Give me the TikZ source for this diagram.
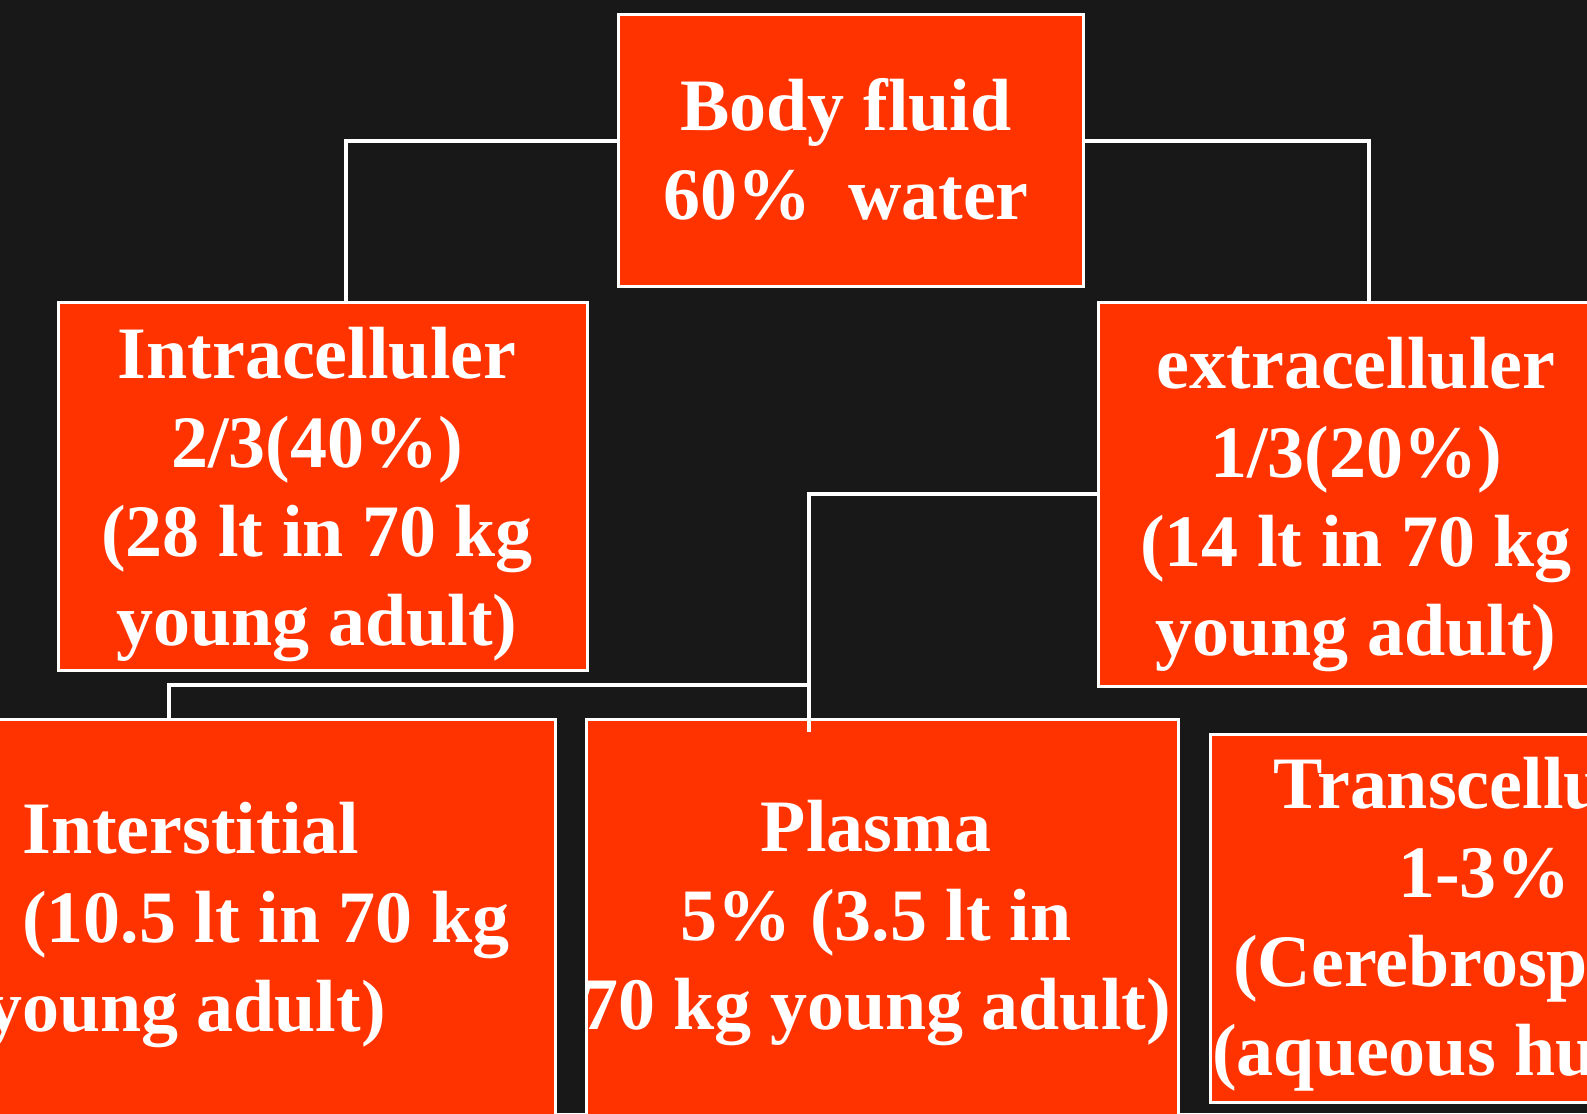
\documentclass[tikz,border=0pt]{standalone}
\usepackage{fontspec}
\setmainfont{Liberation Serif}
\usepackage{tikz}
\usetikzlibrary{positioning}
\definecolor{slidebg}{HTML}{181818}
\definecolor{boxred}{HTML}{FF3300}

\begin{document}
\begin{tikzpicture}[
    x=0.025cm, y=-0.025cm,
    fluidbox/.style={rectangle, draw=white, line width=2pt, fill=boxred,
                     inner sep=0pt, anchor=north west},
    fluidtext/.style={text=white, inner sep=0pt, align=#1,
                      font=\fontsize{52.6}{63.3}\selectfont\bfseries},
    link/.style={draw=white, line width=2.5pt}
]
\useasboundingbox (0,0) rectangle (1587,1113);
\clip (0,0) rectangle (1587,1113);
\fill[slidebg] (0,0) rectangle (1587,1113);

% boxes
\node[fluidbox, minimum width=11.625cm, minimum height=6.8cm] (body) at (617,13) {};
\node[fluidbox, minimum width=13.225cm, minimum height=9.2cm] (intra) at (57,301) {};
\node[fluidbox, minimum width=13.575cm, minimum height=9.6cm] (extra) at (1097,301) {};
\node[fluidbox, minimum width=14.85cm, minimum height=10.8cm] (inter) at (-40,718) {};
\node[fluidbox, minimum width=14.8cm, minimum height=10.8cm] (plasma) at (585,718) {};
\node[fluidbox, minimum width=10.775cm, minimum height=9.2cm] (trans) at (1209,733) {};

% texts
\node[fluidtext=center, anchor=north] (bodytxt) at (846,78) {Body fluid\\60\%\ \ water};
\node[fluidtext=center, anchor=north] (intratxt) at (317,327)
    {Intracelluler\\2/3(40\%)\\(28 lt in 70 kg\\young adult)};
\node[fluidtext=center, anchor=north] (extratxt) at (1356,337)
    {extracelluler\\1/3(20\%)\\(14 lt in 70 kg\\young adult)};
\node[fluidtext=left, anchor=north west] (intertxt) at (22,802)
    {Interstitial\\(10.5 lt in 70 kg\\\hspace*{-0.93cm}young adult)};
\node[fluidtext=center, anchor=north] (plasmatxt) at (876,800)
    {Plasma\\5\% (3.5 lt in\\70 kg young adult)};
\node[fluidtext=left, anchor=north west] (transtxt) at (1212,757)
    {\hspace*{1.525cm}Transcellu\\\hspace*{4.65cm}1-3\%\\\hspace*{0.525cm}(Cerebrosp\\(aqueous hu};

% connectors
\coordinate (bl) at (346,141);
\coordinate (br) at (1369,141);
\coordinate (ec) at (809,494);
\coordinate (pe) at (809,732);
\coordinate (ij) at (169,685);
\draw[link] (body.west |- bl) -| (intra.north -| bl);
\draw[link] (body.east |- br) -| (extra.north -| br);
\draw[link] (extra.west |- ec) -| (pe);
\draw[link] (pe |- ij) -| (inter.north -| ij);
\end{tikzpicture}
\end{document}
